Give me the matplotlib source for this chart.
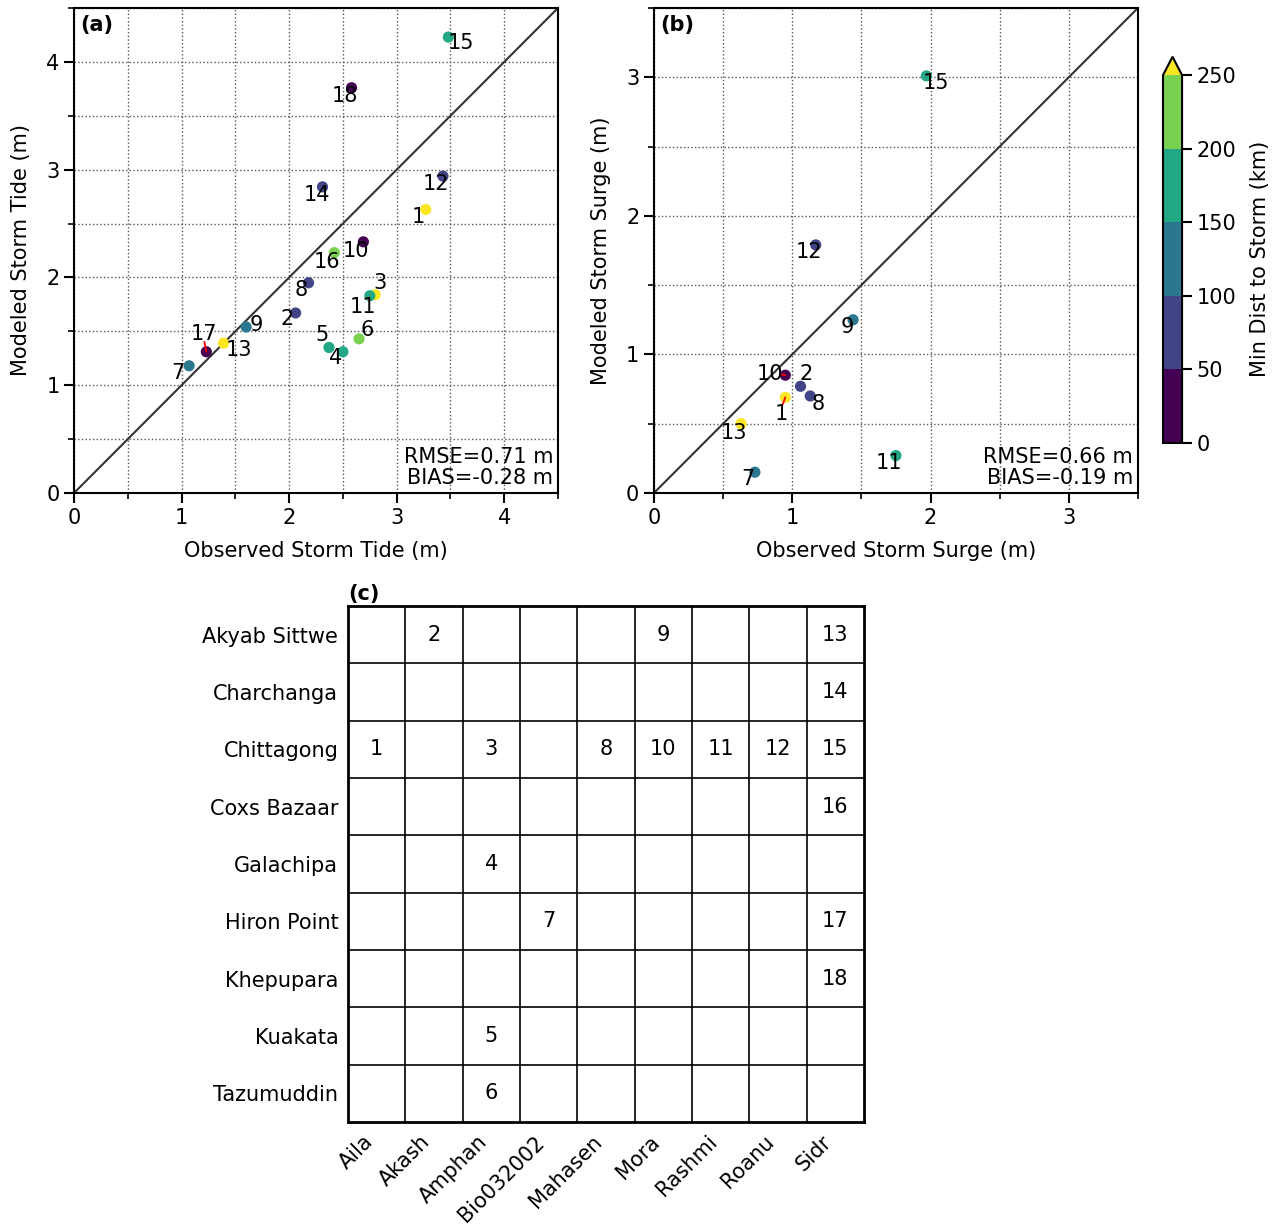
import numpy as np
import matplotlib
matplotlib.use("Agg")
import matplotlib.pyplot as plt
from matplotlib.colors import BoundaryNorm
from matplotlib.ticker import MultipleLocator

# --- data ---
tide_ids = [1, 2, 3, 4, 5, 6, 7, 8, 9, 10, 11, 12, 13, 14, 15, 16, 17, 18]
obs_tide = [3.27, 2.06, 2.80, 2.50, 2.37, 2.65, 1.07, 2.18, 1.60, 2.69, 2.75, 3.43, 1.39, 2.31, 3.48, 2.42, 1.23, 2.58]
mod_tide = [2.63, 1.67, 1.84, 1.31, 1.35, 1.43, 1.18, 1.95, 1.54, 2.33, 1.83, 2.94, 1.39, 2.84, 4.23, 2.23, 1.31, 3.76]

surge_ids = [1, 2, 7, 8, 9, 10, 11, 12, 13, 15]
obs_surge = [0.95, 1.06, 0.73, 1.13, 1.44, 0.95, 1.75, 1.17, 0.63, 1.97]
mod_surge = [0.69, 0.77, 0.15, 0.70, 1.25, 0.85, 0.27, 1.79, 0.50, 3.01]

# minimum distance to storm track (km), per station/storm id
min_dist = {1: 275, 2: 75, 3: 275, 4: 175, 5: 175, 6: 225, 7: 125, 8: 75, 9: 125,
            10: 25, 11: 175, 12: 75, 13: 275, 14: 75, 15: 175, 16: 225, 17: 25, 18: 25}

stations = ["Akyab Sittwe", "Charchanga", "Chittagong", "Coxs Bazaar", "Galachipa",
            "Hiron Point", "Khepupara", "Kuakata", "Tazumuddin"]
storms = ["Aila", "Akash", "Amphan", "Bio032002", "Mahasen", "Mora", "Rashmi", "Roanu", "Sidr"]
# id -> (station, storm)
id_table = {1: ("Chittagong", "Aila"), 2: ("Akyab Sittwe", "Akash"), 3: ("Chittagong", "Amphan"),
            4: ("Galachipa", "Amphan"), 5: ("Kuakata", "Amphan"), 6: ("Tazumuddin", "Amphan"),
            7: ("Hiron Point", "Bio032002"), 8: ("Chittagong", "Mahasen"), 9: ("Akyab Sittwe", "Mora"),
            10: ("Chittagong", "Mora"), 11: ("Chittagong", "Rashmi"), 12: ("Chittagong", "Roanu"),
            13: ("Akyab Sittwe", "Sidr"), 14: ("Charchanga", "Sidr"), 15: ("Chittagong", "Sidr"),
            16: ("Coxs Bazaar", "Sidr"), 17: ("Hiron Point", "Sidr"), 18: ("Khepupara", "Sidr")}

stats_tide = "RMSE=0.71 m\nBIAS=-0.28 m"
stats_surge = "RMSE=0.66 m\nBIAS=-0.19 m"

# label offsets in pixels (dx, dy up), roughly as the label placer left them
offs_tide = {1: (-7, -7), 2: (-8, -6), 3: (5, 12), 4: (-7, -6), 5: (-7, 12), 6: (8, 9),
             7: (-11, -7), 8: (-7, -7), 9: (10, 2), 10: (-7, -9), 11: (-7, -11), 12: (-7, -8),
             13: (15, -7), 14: (-6, -8), 15: (13, -6), 16: (-7, -9), 17: (-2, 18), 18: (-7, -8)}
offs_surge = {1: (-4, -17), 2: (6, 12), 7: (-7, -7), 8: (8, -8), 9: (-6, -7), 10: (-15, 1),
              11: (-7, -7), 12: (-7, -7), 13: (-7, -9), 15: (10, -7)}
# red leader lines: id -> point on the label box where the line starts
arrows_tide = {17: (0.5, 0.1)}
arrows_surge = {1: (0.55, 0.9), 10: (0.9, 0.5)}

FS = 15
plt.rcParams['font.family'] = ['DejaVu Sans']
plt.rcParams['font.size'] = FS

bounds = [0, 50, 100, 150, 200, 250]
cmap = plt.get_cmap('viridis', 6)
norm = BoundaryNorm(bounds, cmap.N, extend='max')

fig = plt.figure(figsize=(12.79, 12.26), dpi=100)
ax_a = fig.add_axes([0.0579, 0.5979, 0.3784, 0.3956])
ax_b = fig.add_axes([0.5113, 0.5979, 0.3784, 0.3956])
cax = fig.add_axes([0.9093, 0.6387, 0.0149, 0.315])
ax_c = fig.add_axes([0.2721, 0.0848, 0.4034, 0.4209])


def scatter_panel(ax, ids, obs, mod, offs, arrows, lim, xlabel, ylabel, stats, tag):
    c = [min_dist[i] for i in ids]
    sc = ax.scatter(obs, mod, c=c, cmap=cmap, norm=norm, s=65, zorder=3, edgecolors='none')
    ax.plot([0, lim], [0, lim], color='#333333', lw=1.5, zorder=2)
    for i, x, y in zip(ids, obs, mod):
        dx, dy = offs[i]
        kw = {}
        if i in arrows:
            kw['arrowprops'] = dict(arrowstyle='-', color='red', lw=1.3, relpos=arrows[i],
                                    patchA=None, shrinkA=0, shrinkB=0)
        ax.annotate(str(i), (x, y), xytext=(dx, dy), textcoords='offset pixels',
                    ha='center', va='center', fontsize=FS, zorder=4, **kw)
    ax.set_xlim(0, lim)
    ax.set_ylim(0, lim)
    ax.xaxis.set_major_locator(MultipleLocator(1))
    ax.yaxis.set_major_locator(MultipleLocator(1))
    ax.xaxis.set_minor_locator(MultipleLocator(0.5))
    ax.yaxis.set_minor_locator(MultipleLocator(0.5))
    ax.grid(which='both', linestyle=':', color='#555555', lw=1.0)
    ax.set_axisbelow(True)
    ax.tick_params(which='major', length=7, width=1.5, labelsize=FS)
    ax.tick_params(which='minor', length=4, width=1.2)
    for s in ax.spines.values():
        s.set_linewidth(1.5)
    ax.set_xlabel(xlabel, fontsize=FS, labelpad=10)
    ax.set_ylabel(ylabel, fontsize=FS, labelpad=11)
    ax.text(0.99, 0.01, stats, transform=ax.transAxes, ha='right', va='bottom',
            fontsize=FS, linespacing=1.05, zorder=5)
    ax.text(0.012, 0.985, tag, transform=ax.transAxes, ha='left', va='top',
            fontsize=FS, fontweight='bold')
    return sc


sc = scatter_panel(ax_a, tide_ids, obs_tide, mod_tide, offs_tide, arrows_tide, 4.5,
                   'Observed Storm Tide (m)', 'Modeled Storm Tide (m)', stats_tide, '(a)')
scatter_panel(ax_b, surge_ids, obs_surge, mod_surge, offs_surge, arrows_surge, 3.5,
              'Observed Storm Surge (m)', 'Modeled Storm Surge (m)', stats_surge, '(b)')

cb = fig.colorbar(sc, cax=cax, extend='max', ticks=bounds)
cb.set_label('Min Dist to Storm (km)', fontsize=FS, labelpad=10)
cb.ax.tick_params(labelsize=FS, length=7, width=1.5)
cb.outline.set_linewidth(1.5)

# (c) station/storm lookup table
n_r, n_c = len(stations), len(storms)
ax_c.set_xlim(0, n_c)
ax_c.set_ylim(n_r, 0)
for k in range(1, n_c):
    ax_c.axvline(k, color='black', lw=1.2)
for k in range(1, n_r):
    ax_c.axhline(k, color='black', lw=1.2)
for i, (st, sm) in id_table.items():
    r = stations.index(st)
    cidx = storms.index(sm)
    ax_c.text(cidx + 0.5, r + 0.5, str(i), ha='center', va='center', fontsize=FS)
ax_c.set_xticks(np.arange(n_c) + 0.5)
ax_c.set_xticklabels(storms, rotation=45, ha='right', fontsize=FS)
ax_c.set_yticks(np.arange(n_r) + 0.5)
ax_c.set_yticklabels(stations, fontsize=FS)
ax_c.tick_params(axis='y', length=0, pad=7)
ax_c.tick_params(axis='x', length=0, pad=7)
for s in ax_c.spines.values():
    s.set_linewidth(2)
ax_c.set_title('(c)', loc='left', fontsize=FS, fontweight='bold', pad=4)

fig.savefig('out.png', dpi=100)
